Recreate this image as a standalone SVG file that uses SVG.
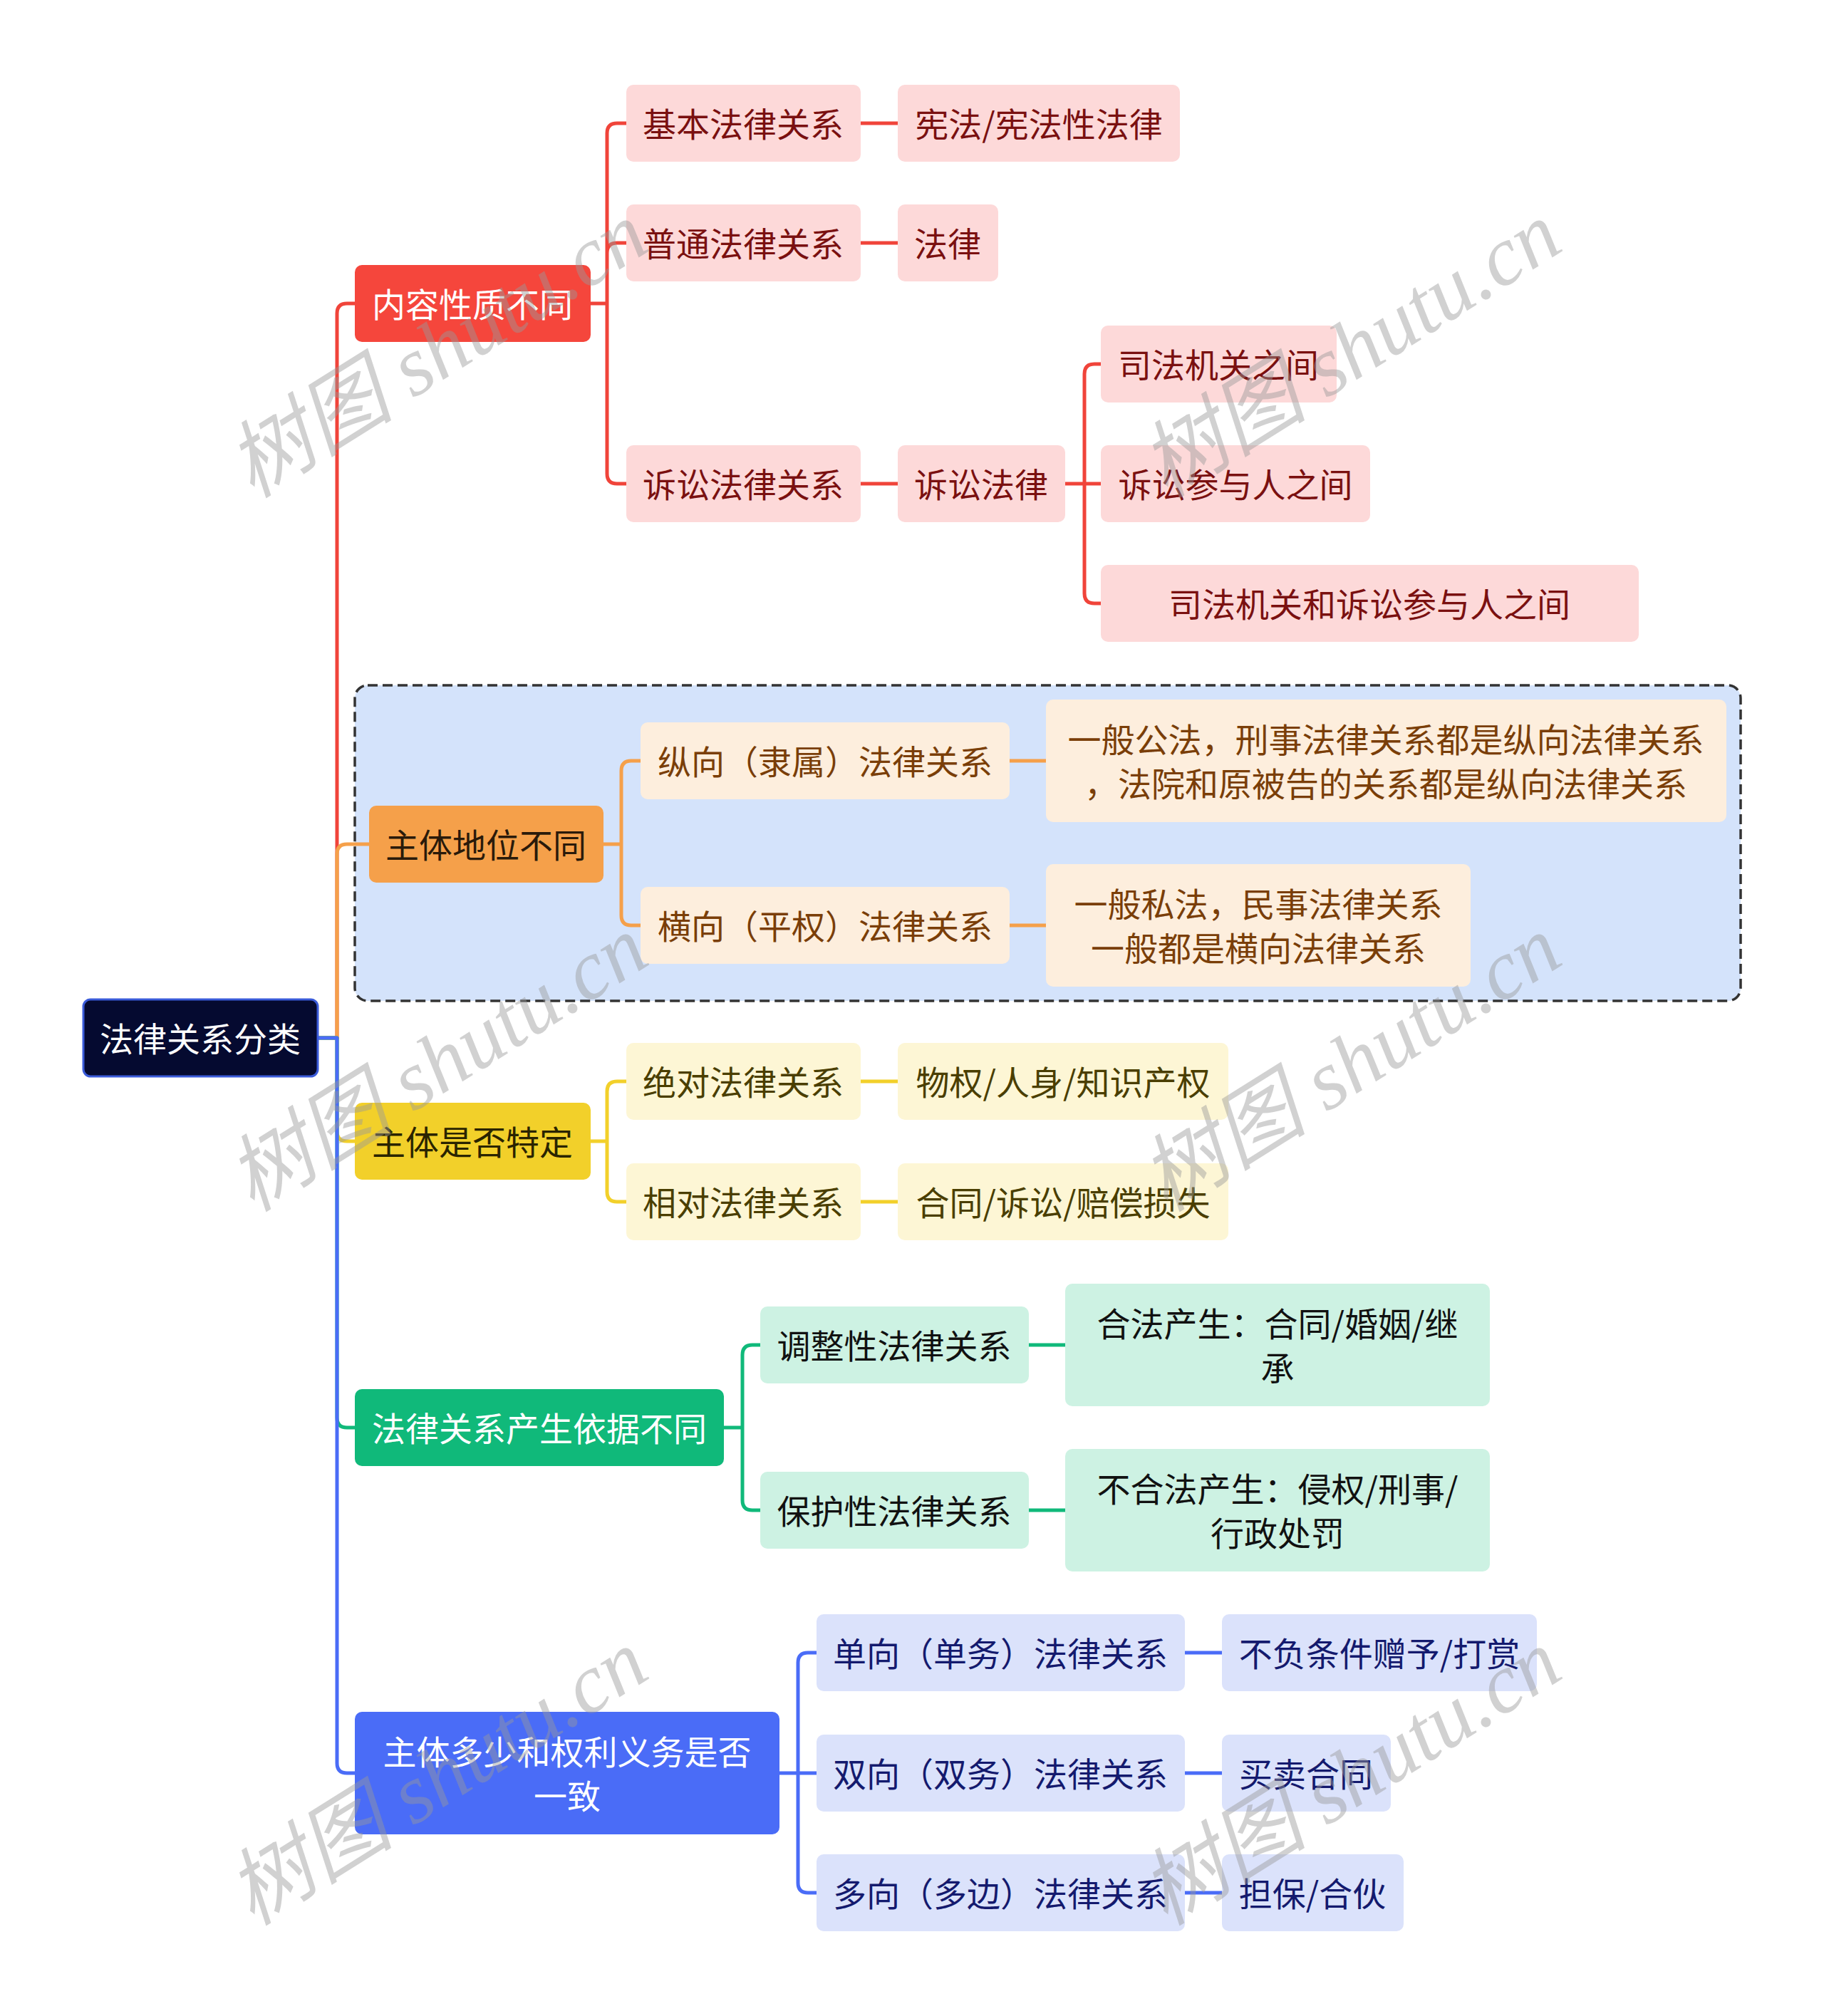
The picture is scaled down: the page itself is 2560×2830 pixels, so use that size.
<svg xmlns="http://www.w3.org/2000/svg" width="2560" height="2830" viewBox="0 0 2560 2830">
<style>
text{font-family:"Noto Sans CJK SC","Noto Sans",sans-serif;font-size:47px;text-anchor:middle;dominant-baseline:central}
.c{fill:none;stroke-width:5;stroke-linecap:round;stroke-linejoin:round}
.wm{font-family:"Liberation Serif","Noto Sans CJK SC",serif;font-style:italic;font-size:118px;fill:#9a9a9a;fill-opacity:0.45;dominant-baseline:auto}
</style>
<rect width="2560" height="2830" fill="#ffffff"/>
<g id="group-box"><rect x="498" y="962" width="1945" height="443" rx="18" fill="#d4e3fb" stroke="#333" stroke-width="3.5" stroke-dasharray="14 7"/></g>
<g id="connectors">
<path class="c" stroke="#f0443a" d="M446,1457 H473 V440 Q473,426 487,426 H498"/>
<path class="c" stroke="#f5a04a" d="M446,1457 H473 V1199 Q473,1185 487,1185 H518"/>
<path class="c" stroke="#f2d02a" d="M446,1457 H473 V1588 Q473,1602 487,1602 H498"/>
<path class="c" stroke="#10b97a" d="M446,1457 H473 V1990 Q473,2004 487,2004 H498"/>
<path class="c" stroke="#4a6cf7" d="M446,1457 H473 V2475 Q473,2489 487,2489 H498"/>
<path class="c" stroke="#f0443a" d="M829,426 H852 V187 Q852,173 866,173 H879 M852,426 V355 Q852,341 866,341 H879 M852,426 V665 Q852,679 866,679 H879"/>
<path class="c" stroke="#f0443a" d="M1208,173 H1260 M1208,341 H1260 M1208,679 H1260"/>
<path class="c" stroke="#f0443a" d="M1495,679 H1522 V525 Q1522,511 1536,511 H1545 M1495,679 H1545 M1522,679 V833 Q1522,847 1536,847 H1545"/>
<path class="c" stroke="#f5a04a" d="M847,1185 H872 V1082 Q872,1068 886,1068 H899 M872,1185 V1285 Q872,1299 886,1299 H899 M1417,1068 H1468 M1417,1299 H1468"/>
<path class="c" stroke="#f2d02a" d="M829,1602 H852 V1532 Q852,1518 866,1518 H879 M852,1602 V1673 Q852,1687 866,1687 H879 M1208,1518 H1260 M1208,1687 H1260"/>
<path class="c" stroke="#10b97a" d="M1016,2004 H1042 V1902 Q1042,1888 1056,1888 H1067 M1042,2004 V2106 Q1042,2120 1056,2120 H1067 M1444,1888 H1495 M1444,2120 H1495"/>
<path class="c" stroke="#4a6cf7" d="M1094,2489 H1120 V2334 Q1120,2320 1134,2320 H1146 M1094,2489 H1146 M1120,2489 V2643 Q1120,2657 1134,2657 H1146 M1663,2320 H1715 M1663,2489 H1715 M1663,2657 H1715"/>
</g>
<g id="root"><rect x="117" y="1403" width="329" height="108" rx="10" fill="#050a30" stroke="#3a5bd9" stroke-width="3"/><text x="281" y="1455" fill="#fff">法律关系分类</text></g>
<g id="n1"><rect x="498" y="372" width="331" height="108" rx="10" fill="#f5463c"/><text x="663" y="424" fill="#fff">内容性质不同</text></g>
<g id="n1a"><rect x="879" y="119" width="329" height="108" rx="10" fill="#fdd9d9"/><text x="1043" y="171" fill="#7a1010">基本法律关系</text></g>
<g id="n1a1"><rect x="1260" y="119" width="396" height="108" rx="10" fill="#fdd9d9"/><text x="1458" y="171" fill="#7a1010">宪法/宪法性法律</text></g>
<g id="n1b"><rect x="879" y="287" width="329" height="108" rx="10" fill="#fdd9d9"/><text x="1043" y="339" fill="#7a1010">普通法律关系</text></g>
<g id="n1b1"><rect x="1260" y="287" width="141" height="108" rx="10" fill="#fdd9d9"/><text x="1330" y="339" fill="#7a1010">法律</text></g>
<g id="n1c"><rect x="879" y="625" width="329" height="108" rx="10" fill="#fdd9d9"/><text x="1043" y="677" fill="#7a1010">诉讼法律关系</text></g>
<g id="n1c1"><rect x="1260" y="625" width="235" height="108" rx="10" fill="#fdd9d9"/><text x="1377" y="677" fill="#7a1010">诉讼法律</text></g>
<g id="n1c1a"><rect x="1545" y="457" width="331" height="108" rx="10" fill="#fdd9d9"/><text x="1710" y="509" fill="#7a1010">司法机关之间</text></g>
<g id="n1c1b"><rect x="1545" y="625" width="378" height="108" rx="10" fill="#fdd9d9"/><text x="1734" y="677" fill="#7a1010">诉讼参与人之间</text></g>
<g id="n1c1c"><rect x="1545" y="793" width="755" height="108" rx="10" fill="#fdd9d9"/><text x="1922" y="845" fill="#7a1010">司法机关和诉讼参与人之间</text></g>
<g id="n2"><rect x="518" y="1131" width="329" height="108" rx="10" fill="#f5a04a"/><text x="682" y="1183" fill="#2a1a0a">主体地位不同</text></g>
<g id="n2a"><rect x="899" y="1014" width="518" height="108" rx="10" fill="#fdeedd"/><text x="1158" y="1066" fill="#7a3e08">纵向（隶属）法律关系</text></g>
<g id="n2a1"><rect x="1468" y="982" width="955" height="172" rx="10" fill="#fdeedd"/><text x="1945" y="1035" fill="#7a3e08">一般公法，刑事法律关系都是纵向法律关系</text><text x="1945" y="1097" fill="#7a3e08">，法院和原被告的关系都是纵向法律关系</text></g>
<g id="n2b"><rect x="899" y="1245" width="518" height="108" rx="10" fill="#fdeedd"/><text x="1158" y="1297" fill="#7a3e08">横向（平权）法律关系</text></g>
<g id="n2b1"><rect x="1468" y="1213" width="596" height="172" rx="10" fill="#fdeedd"/><text x="1766" y="1266" fill="#7a3e08">一般私法，民事法律关系</text><text x="1766" y="1328" fill="#7a3e08">一般都是横向法律关系</text></g>
<g id="n3"><rect x="498" y="1548" width="331" height="108" rx="10" fill="#f2d02a"/><text x="663" y="1600" fill="#2a2400">主体是否特定</text></g>
<g id="n3a"><rect x="879" y="1464" width="329" height="108" rx="10" fill="#fdf6d5"/><text x="1043" y="1516" fill="#4a3e00">绝对法律关系</text></g>
<g id="n3a1"><rect x="1260" y="1464" width="464" height="108" rx="10" fill="#fdf6d5"/><text x="1492" y="1516" fill="#4a3e00">物权/人身/知识产权</text></g>
<g id="n3b"><rect x="879" y="1633" width="329" height="108" rx="10" fill="#fdf6d5"/><text x="1043" y="1685" fill="#4a3e00">相对法律关系</text></g>
<g id="n3b1"><rect x="1260" y="1633" width="464" height="108" rx="10" fill="#fdf6d5"/><text x="1492" y="1685" fill="#4a3e00">合同/诉讼/赔偿损失</text></g>
<g id="n4"><rect x="498" y="1950" width="518" height="108" rx="10" fill="#10b97a"/><text x="757" y="2002" fill="#fff">法律关系产生依据不同</text></g>
<g id="n4a"><rect x="1067" y="1834" width="377" height="108" rx="10" fill="#cdf2e3"/><text x="1255" y="1886" fill="#111">调整性法律关系</text></g>
<g id="n4a1"><rect x="1495" y="1802" width="596" height="172" rx="10" fill="#cdf2e3"/><text x="1793" y="1855" fill="#111">合法产生：合同/婚姻/继</text><text x="1793" y="1917" fill="#111">承</text></g>
<g id="n4b"><rect x="1067" y="2066" width="377" height="108" rx="10" fill="#cdf2e3"/><text x="1255" y="2118" fill="#111">保护性法律关系</text></g>
<g id="n4b1"><rect x="1495" y="2034" width="596" height="172" rx="10" fill="#cdf2e3"/><text x="1793" y="2087" fill="#111">不合法产生：侵权/刑事/</text><text x="1793" y="2149" fill="#111">行政处罚</text></g>
<g id="n5"><rect x="498" y="2403" width="596" height="172" rx="10" fill="#4a6cf7"/><text x="796" y="2456" fill="#fff">主体多少和权利义务是否</text><text x="796" y="2518" fill="#fff">一致</text></g>
<g id="n5a"><rect x="1146" y="2266" width="517" height="108" rx="10" fill="#dbe2fb"/><text x="1404" y="2318" fill="#141a6e">单向（单务）法律关系</text></g>
<g id="n5a1"><rect x="1715" y="2266" width="442" height="108" rx="10" fill="#dbe2fb"/><text x="1936" y="2318" fill="#141a6e">不负条件赠予/打赏</text></g>
<g id="n5b"><rect x="1146" y="2435" width="517" height="108" rx="10" fill="#dbe2fb"/><text x="1404" y="2487" fill="#141a6e">双向（双务）法律关系</text></g>
<g id="n5b1"><rect x="1715" y="2435" width="237" height="108" rx="10" fill="#dbe2fb"/><text x="1833" y="2487" fill="#141a6e">买卖合同</text></g>
<g id="n5c"><rect x="1146" y="2603" width="517" height="108" rx="10" fill="#dbe2fb"/><text x="1404" y="2655" fill="#141a6e">多向（多边）法律关系</text></g>
<g id="n5c1"><rect x="1715" y="2603" width="255" height="108" rx="10" fill="#dbe2fb"/><text x="1842" y="2655" fill="#141a6e">担保/合伙</text></g>
<g id="watermarks">
<text class="wm" transform="translate(635,525) rotate(-32)">树图 shutu.cn</text>
<text class="wm" transform="translate(1917,525) rotate(-32)">树图 shutu.cn</text>
<text class="wm" transform="translate(635,1527) rotate(-32)">树图 shutu.cn</text>
<text class="wm" transform="translate(1917,1527) rotate(-32)">树图 shutu.cn</text>
<text class="wm" transform="translate(635,2529) rotate(-32)">树图 shutu.cn</text>
<text class="wm" transform="translate(1917,2529) rotate(-32)">树图 shutu.cn</text>
</g>
</svg>
